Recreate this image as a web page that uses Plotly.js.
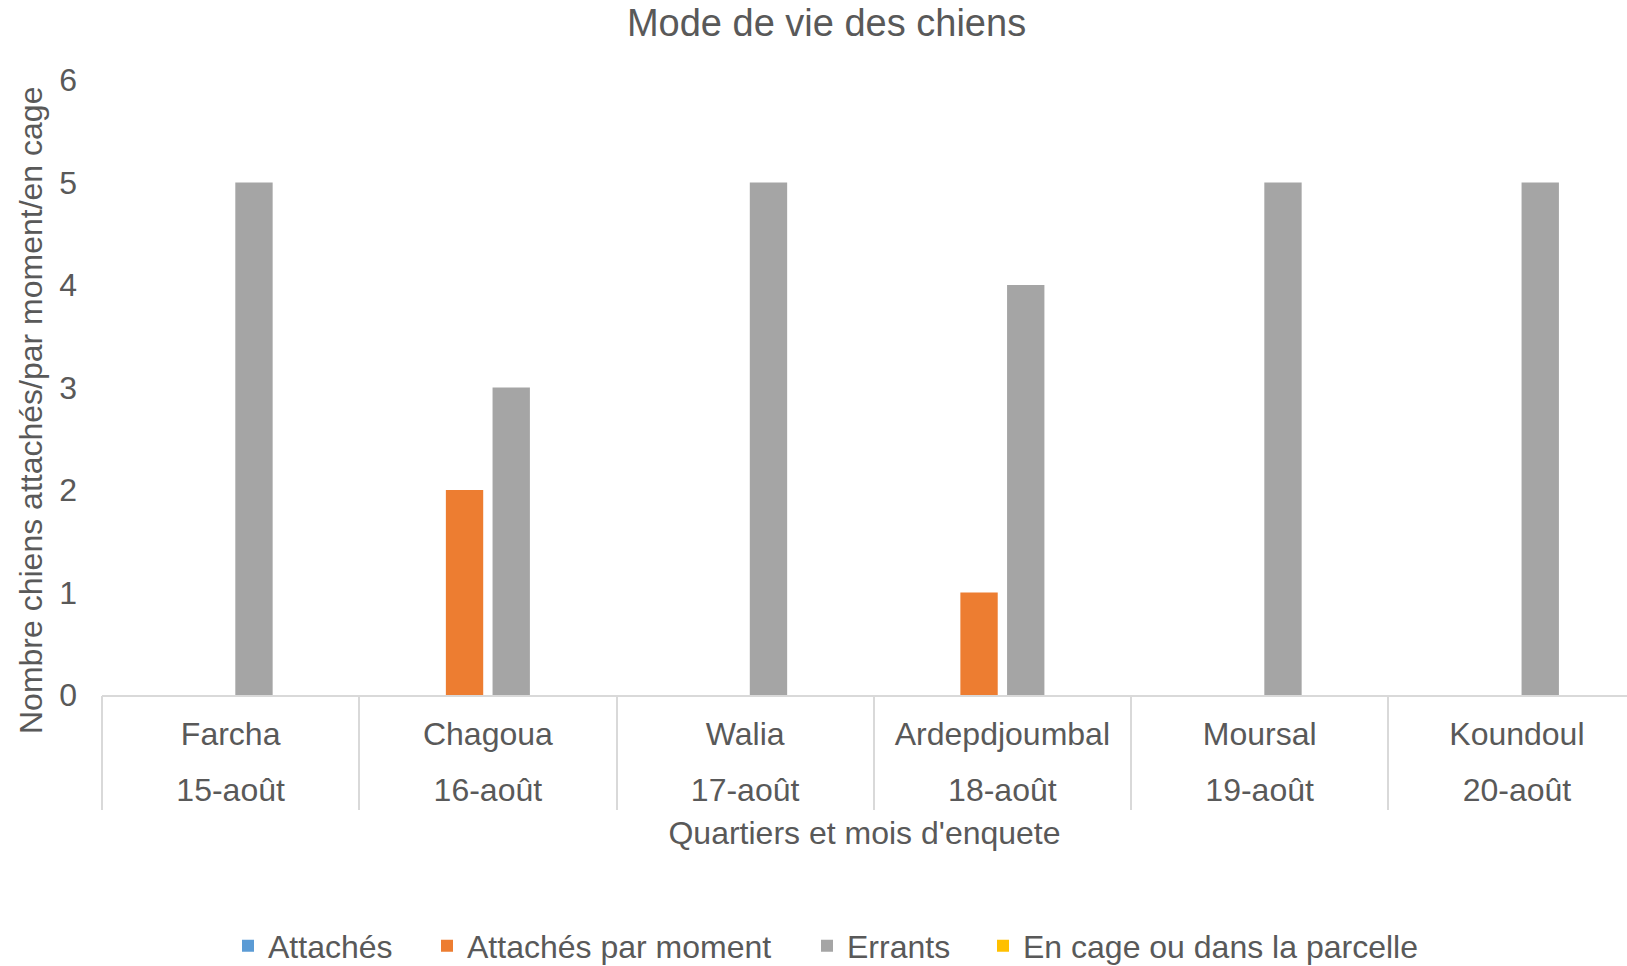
<!DOCTYPE html>
<html>
<head>
<meta charset="utf-8">
<script src="https://cdn.plot.ly/plotly-3.0.1.min.js"></script>
<style>html,body{margin:0;padding:0;background:#fff;overflow:hidden}#chart{width:1627px;height:966px}</style>
</head>
<body>
<div id="chart"></div>
<script>
const quartiers = ['Farcha', 'Chagoua', 'Walia', 'Ardepdjoumbal', 'Moursal', 'Koundoul'];
const dates = ['15-août', '16-août', '17-août', '18-août', '19-août', '20-août'];
const seriesNames = ['Attachés', 'Attachés par moment', 'Errants', 'En cage ou dans la parcelle'];
const attaches = [0, 0, 0, 0, 0, 0];
const attachesParMoment = [0, 2, 0, 1, 0, 0];
const errants = [5, 3, 5, 4, 5, 5];
const enCage = [0, 0, 0, 0, 0, 0];
const colors = ['#5B9BD5', '#ED7D31', '#A5A5A5', '#FFC000'];

const FONT = 'Liberation Sans, Arial, sans-serif';
const TXT = '#595959';
const values = [attaches, attachesParMoment, errants, enCage];
const legendIds = ['legend', 'legend2', 'legend3', 'legend4'];
const legendTextStart = [268, 467, 847, 1023];

const traces = values.map((v, i) => ({
  type: 'bar',
  name: seriesNames[i],
  x: quartiers,
  y: v,
  marker: {color: colors[i]},
  legend: legendIds[i],
  hoverinfo: 'x+y+name'
}));
// empty helper traces so the overlaying axes (dates row, category dividers) get drawn
['x2', 'x3'].forEach(ax => traces.push({type: 'scatter', mode: 'markers', x: [], y: [], xaxis: ax, yaxis: 'y',
  showlegend: false, hoverinfo: 'skip'}));

const range = [-0.5, 5.428];
const layout = {
  width: 1627, height: 966,
  margin: {l: 102, r: 0, t: 80, b: 271},
  paper_bgcolor: '#fff', plot_bgcolor: '#fff',
  font: {family: FONT, color: TXT, size: 32},
  barmode: 'group', bargap: 0.274, bargroupgap: 0.2,
  title: {text: 'Mode de vie des chiens', font: {size: 38, color: TXT, family: FONT},
          xref: 'container', x: 0.508, xanchor: 'center', yref: 'container', y: 0.976, yanchor: 'middle'},
  xaxis: {type: 'category', range: range, autorange: false, showline: true, linecolor: '#D9D9D9', linewidth: 2,
          ticks: '', showgrid: false, zeroline: false, ticklabelstandoff: 10,
          tickfont: {size: 32, color: TXT}},
  xaxis2: {overlaying: 'x', anchor: 'y', side: 'bottom', type: 'linear', range: range, autorange: false,
           tickmode: 'array', tickvals: dates.map((d, i) => i), ticktext: dates,
           showline: false, ticks: '', showgrid: false, zeroline: false, ticklabelstandoff: 73,
           tickfont: {size: 32, color: TXT},
           title: {text: "Quartiers et mois d'enquete", font: {size: 32, color: TXT}, standoff: 14}},
  xaxis3: {overlaying: 'x', anchor: 'y', side: 'bottom', type: 'linear', range: range, autorange: false,
           tickmode: 'linear', tick0: -0.5, dtick: 1, ticks: 'outside', ticklen: 114, tickwidth: 2,
           tickcolor: '#D9D9D9', showticklabels: false, showline: false, showgrid: false, zeroline: false},
  yaxis: {range: [0, 6], autorange: false, dtick: 1, showgrid: false, zeroline: false, showline: false,
          ticks: '', ticklabelstandoff: 24, tickfont: {size: 32, color: TXT}},
  annotations: [{text: 'Nombre chiens attachés/par moment/en cage', textangle: -90, showarrow: false,
                 xref: 'paper', yref: 'paper', x: (31 - 102) / 1525, y: (695 - 411) / 615,
                 xanchor: 'center', yanchor: 'middle', font: {size: 32, color: TXT, family: FONT}}],
  showlegend: true
};
legendIds.forEach((id, i) => {
  layout[id] = {orientation: 'h', xref: 'container', yref: 'container', x: (legendTextStart[i] - 40) / 1627,
                xanchor: 'left', y: 1 - 946 / 966, yanchor: 'middle', bgcolor: 'rgba(0,0,0,0)',
                font: {size: 32, color: TXT, family: FONT}};
});

Plotly.newPlot('chart', traces, layout, {displayModeBar: false, responsive: false});
</script>
</body>
</html>
